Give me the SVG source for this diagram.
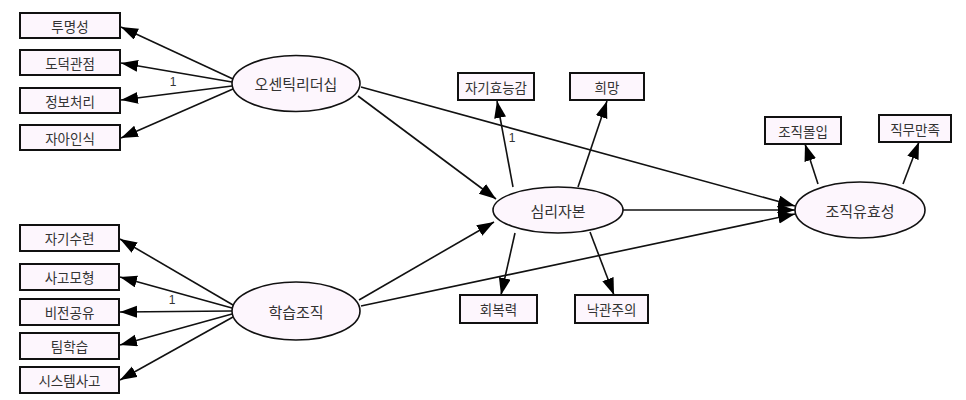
<svg xmlns="http://www.w3.org/2000/svg" width="966" height="400" viewBox="0 0 966 400">
<defs>
<marker id="ah" markerUnits="userSpaceOnUse" markerWidth="18" markerHeight="14" refX="17" refY="6" orient="auto">
<path d="M0,0 L17,6 L0,12 z" fill="#000"/>
</marker>
<style>
.box{fill:#fdf6fd;stroke:#111;stroke-width:2}
.ell{fill:#fdf6fd;stroke:#111;stroke-width:1.6}
.t{font-family:"Noto Sans CJK KR","Noto Sans",sans-serif;font-size:13.5px;fill:#333;text-anchor:middle;dominant-baseline:central}
.te{font-family:"Noto Sans CJK KR","Noto Sans",sans-serif;font-size:15px;fill:#333;text-anchor:middle;dominant-baseline:central}
.c line{stroke:#111;stroke-width:1.6;marker-end:url(#ah)}
.n{font-family:"Liberation Sans",Arial,sans-serif;font-size:12px;fill:#333;text-anchor:middle}
</style>
</defs>
<rect width="966" height="400" fill="#fff"/>
<g class="c" id="connectors">
<line x1="233" y1="79" x2="121" y2="27"/>
<line x1="232" y1="82" x2="121" y2="63"/>
<line x1="232" y1="86" x2="121" y2="100"/>
<line x1="233" y1="89" x2="121" y2="138"/>
<line x1="233" y1="305" x2="120" y2="239"/>
<line x1="232" y1="308" x2="120" y2="277"/>
<line x1="232" y1="311" x2="120" y2="312"/>
<line x1="232" y1="314" x2="120" y2="345"/>
<line x1="233" y1="317" x2="120" y2="380"/>
<line x1="358" y1="96" x2="496" y2="199"/>
<line x1="361" y1="87" x2="795" y2="206"/>
<line x1="359" y1="300" x2="494" y2="222"/>
<line x1="361" y1="306" x2="795" y2="214"/>
<line x1="623" y1="210" x2="795" y2="210"/>
<line x1="513" y1="187" x2="497" y2="101"/>
<line x1="578" y1="187" x2="607" y2="101"/>
<line x1="515" y1="233" x2="501" y2="295"/>
<line x1="590" y1="232" x2="614" y2="295"/>
<line x1="818" y1="184" x2="805" y2="144"/>
<line x1="903" y1="184" x2="919" y2="142"/>
</g>
<g id="n_tm"><rect class="box" x="20" y="13" width="100" height="25"/><text class="t" x="70" y="25.5">투명성</text></g>
<g id="n_dd"><rect class="box" x="20" y="50" width="100" height="25"/><text class="t" x="70" y="62.5">도덕관점</text></g>
<g id="n_jb"><rect class="box" x="20" y="88" width="100" height="25"/><text class="t" x="70" y="100.5">정보처리</text></g>
<g id="n_ja"><rect class="box" x="20" y="125" width="100" height="25"/><text class="t" x="70" y="137.5">자아인식</text></g>
<g id="n_jg"><rect class="box" x="20" y="225" width="99" height="26"/><text class="t" x="69.5" y="238">자기수련</text></g>
<g id="n_sg"><rect class="box" x="20" y="264" width="99" height="26"/><text class="t" x="69.5" y="277">사고모형</text></g>
<g id="n_bj"><rect class="box" x="20" y="299" width="99" height="26"/><text class="t" x="69.5" y="312">비전공유</text></g>
<g id="n_th"><rect class="box" x="20" y="333" width="99" height="26"/><text class="t" x="69.5" y="346">팀학습</text></g>
<g id="n_ss"><rect class="box" x="20" y="367" width="99" height="26"/><text class="t" x="69.5" y="380">시스템사고</text></g>
<g id="n_auth"><ellipse class="ell" cx="296" cy="83.5" rx="64" ry="28"/><text class="te" x="296" y="83.5">오센틱리더십</text></g>
<g id="n_learn"><ellipse class="ell" cx="296" cy="311" rx="64" ry="29"/><text class="te" x="296" y="311">학습조직</text></g>
<g id="n_psy"><ellipse class="ell" cx="558" cy="210" rx="65" ry="23"/><text class="te" x="558" y="210">심리자본</text></g>
<g id="n_org"><ellipse class="ell" cx="860" cy="210" rx="65" ry="28"/><text class="te" x="860" y="210">조직유효성</text></g>
<g id="n_se"><rect class="box" x="458" y="73" width="76" height="27"/><text class="t" x="496" y="86.5">자기효능감</text></g>
<g id="n_hope"><rect class="box" x="570" y="73" width="74" height="27"/><text class="t" x="607" y="86.5">희망</text></g>
<g id="n_res"><rect class="box" x="460" y="295" width="77" height="28"/><text class="t" x="498.5" y="309">회복력</text></g>
<g id="n_opt"><rect class="box" x="575" y="295" width="73" height="28"/><text class="t" x="611.5" y="309">낙관주의</text></g>
<g id="n_oc"><rect class="box" x="765" y="117" width="76" height="27"/><text class="t" x="803" y="130.5">조직몰입</text></g>
<g id="n_js"><rect class="box" x="879" y="115" width="72" height="27"/><text class="t" x="915" y="128.5">직무만족</text></g>
<text class="n" x="173" y="86">1</text>
<text class="n" x="172" y="304">1</text>
<text class="n" x="512" y="142">1</text>
</svg>
